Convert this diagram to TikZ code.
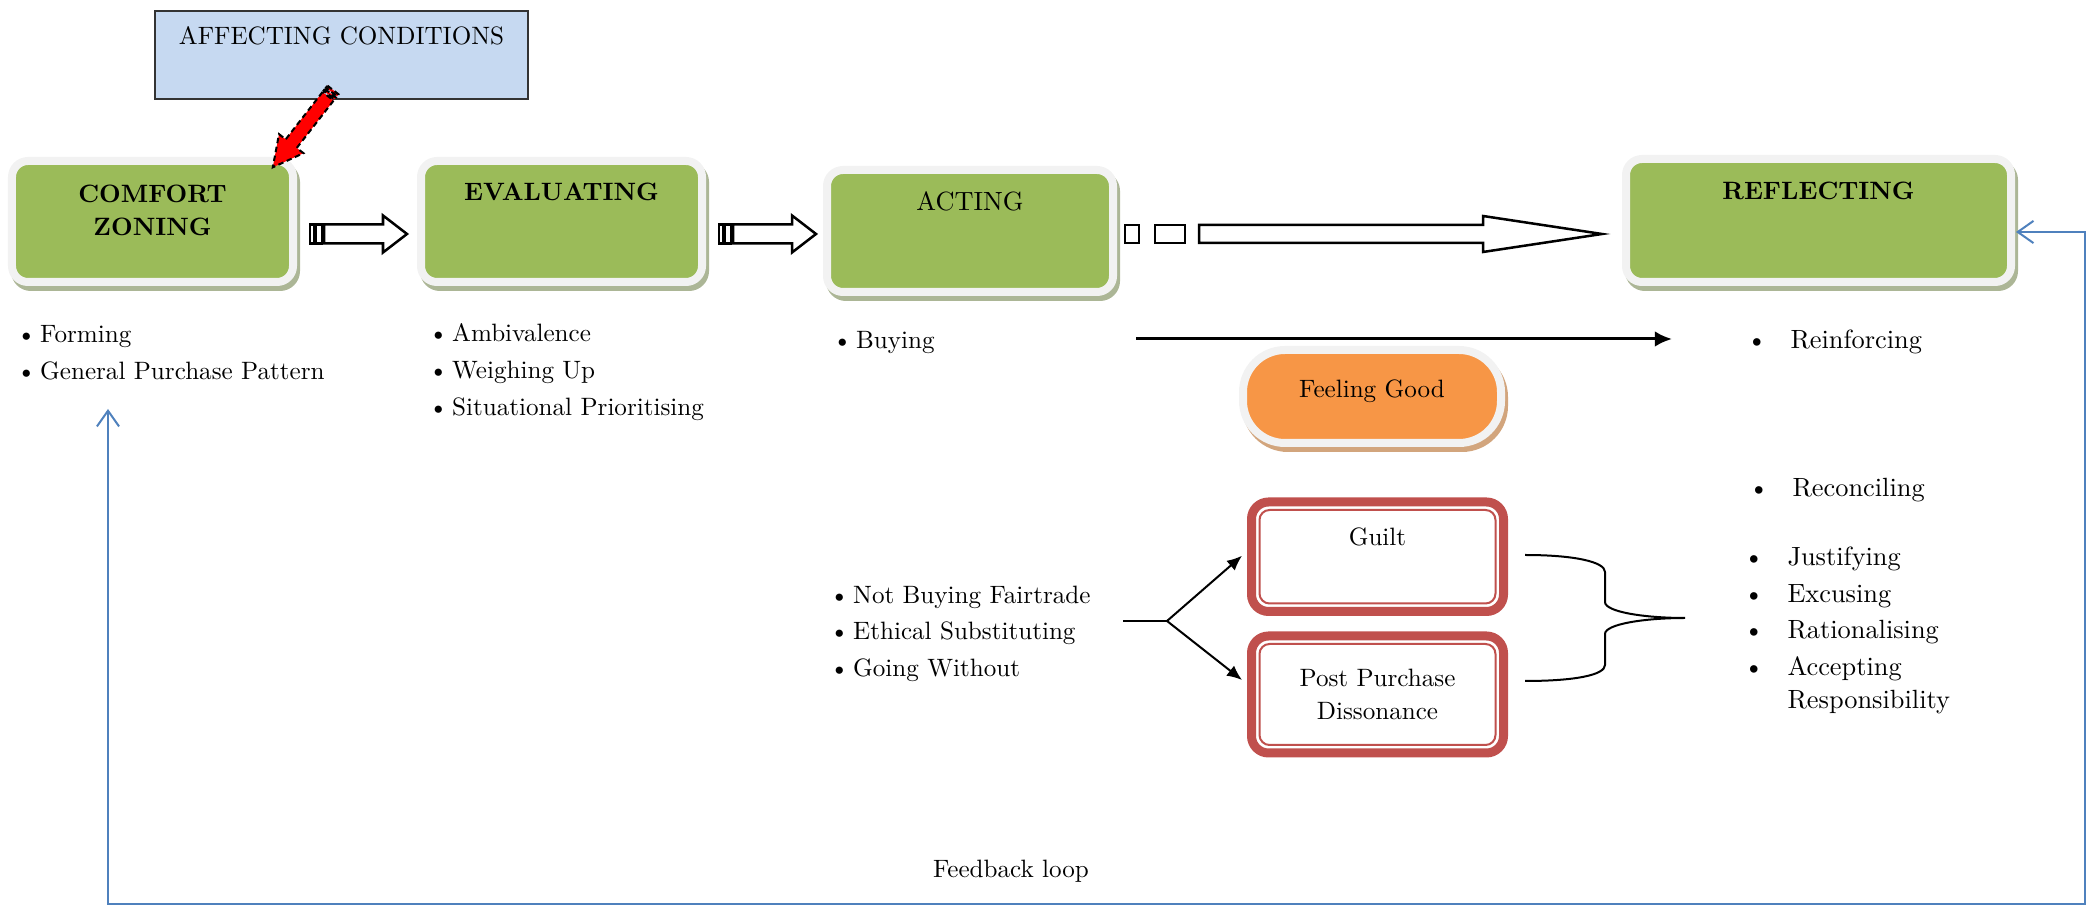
\documentclass[tikz,border=0pt]{standalone}
\usepackage{tikz}
\usetikzlibrary{arrows.meta,calc,positioning}
\definecolor{stagegreen}{HTML}{9BBB59}
\definecolor{stageshd}{RGB}{172,182,150}
\definecolor{rimgray}{HTML}{F2F2F2}
\definecolor{moodorange}{HTML}{F79646}
\definecolor{moodshd}{RGB}{210,165,125}
\definecolor{boxred}{HTML}{C0504D}
\definecolor{condblue}{HTML}{C6D9F1}
\definecolor{loopblue}{HTML}{4F81BD}
\newcommand{\itm}{\makebox[0.616cm][l]{\textbullet}}
\tikzset{
  lbl/.style={font=\fontsize{10}{14.84}\selectfont},
  lst/.style={lbl,anchor=base west,align=left,inner sep=0pt},
  rlst/.style={lst,font=\fontsize{10.5}{14.56}\selectfont},
  stage/.style={rectangle,rounded corners=0.224cm,fill=stagegreen,draw=rimgray,
    line width=0.112cm,outer sep=0pt,inner sep=0pt,align=center,
    font=\fontsize{10}{13.16}\selectfont\bfseries,
    preaction={fill=stageshd,draw=stageshd,transform canvas={xshift=0.042cm,yshift=-0.07cm}}},
  mood/.style={rectangle,rounded corners=0.588cm,fill=moodorange,draw=rimgray,
    line width=0.112cm,outer sep=0pt,inner sep=0pt,lbl,
    preaction={fill=moodshd,draw=moodshd,transform canvas={xshift=0.042cm,yshift=-0.07cm}}},
  cond/.style={rectangle,fill=condblue,draw=black!80,line width=0.028cm,lbl,inner sep=0pt},
  box/.style={rectangle,rounded corners=0.238cm,draw=boxred,fill=white,line width=0.126cm,
    outer sep=0pt,inner sep=0pt,align=center,font=\fontsize{10}{13.44}\selectfont},
  inner/.style={boxred,line width=0.028cm,rounded corners=0.14cm},
  blk/.style={draw=black,fill=white,line width=1pt},
  redarr/.style={draw=black,fill=red,line width=0.8pt,dash pattern=on 2.2pt off 1.4pt},
  fk/.style={line width=0.028cm,-{Latex[length=0.21cm,width=0.18cm]}},
  buyarr/.style={line width=0.042cm,-{Latex[length=0.24cm,width=0.22cm]}},
  fb/.style={loopblue,line width=0.028cm,
    {Straight Barb[length=0.22cm,width=0.31cm]}-{Straight Barb[length=0.22cm,width=0.31cm]}},
}
\begin{document}
\begin{tikzpicture}[x=1.4cm,y=1.4cm]
  \useasboundingbox (0,0) rectangle (20.98,-9.06);
  % the four stages
  \node[stage,minimum width=3.934cm,minimum height=1.694cm,text depth=0.31cm] (cz) at (1.525,-2.215) {COMFORT\\ZONING};
  \node[stage,minimum width=3.934cm,minimum height=1.694cm,text depth=0.84cm] (ev) at (5.615,-2.215) {EVALUATING};
  \node[stage,minimum width=4.004cm,minimum height=1.708cm,text depth=0.84cm,font=\fontsize{10.5}{13.16}\selectfont] (act) at (9.70,-2.31) {ACTING};
  \node[stage,minimum width=5.39cm,minimum height=1.722cm,text depth=0.84cm] (ref) at (18.185,-2.205) {REFLECTING};
  \node[cond,minimum width=5.222cm,minimum height=1.232cm,text depth=0.532cm] (ac) at (3.415,-0.55) {AFFECTING CONDITIONS};
  \begin{scope}[shift={(3.33,-0.90)},rotate=-127.9]
    \foreach \a/\b in {0/0.025,0.042/0.064} \draw[redarr] (\a,-0.07) rectangle (\b,0.07);
    \draw[redarr] (0.08,-0.07) -- (0.68,-0.07) -- (0.68,-0.155) -- (0.98,0) -- (0.68,0.155) -- (0.68,0.07) -- (0.08,0.07) -- cycle;
  \end{scope}
  % block arrows between stages
  \foreach \s in {cz,ev} {
    \begin{scope}[shift={(\s.east)}]
      \draw[blk] (0.17,-0.03) rectangle (0.21,-0.22);
      \draw[blk] (0.23,-0.03) rectangle (0.29,-0.22);
      \draw[blk] (0.31,-0.03) -- (0.90,-0.03) -- (0.90,0.06) -- (1.14,-0.125) -- (0.90,-0.31) -- (0.90,-0.22) -- (0.31,-0.22) -- cycle;
    \end{scope}
  }
  \begin{scope}[shift={(act.east)}]
    \draw[blk] (0.12,0.06) rectangle (0.26,-0.12);
    \draw[blk] (0.42,0.06) rectangle (0.72,-0.12);
    \draw[blk] (0.86,0.06) -- (3.70,0.06) -- (3.70,0.15) -- (4.89,-0.03) -- (3.70,-0.21) -- (3.70,-0.12) -- (0.86,-0.12) -- cycle;
  \end{scope}
  % lists under the stages
  \node[lst] (czl) at (0.16,-3.794) {\textbullet\,Forming\\\textbullet\,General Purchase Pattern};
  \node[lst] (evl) at (4.28,-4.158) {\textbullet\,Ambivalence\\\textbullet\,Weighing Up\\\textbullet\,Situational Prioritising};
  \node[lst] (buy) at (8.32,-3.49) {\textbullet\,Buying};
  \node[lst,font=\fontsize{10}{14.56}\selectfont] (notb) at (8.29,-6.762) {\textbullet\,Not Buying Fairtrade\\\textbullet\,Ethical Substituting\\\textbullet\,Going Without};
  \node[rlst] (reinf) at (17.46,-3.49) {\itm Reinforcing};
  \node[rlst] (recon) at (17.48,-4.97) {\itm Reconciling};
  \node[rlst] (just) at (17.43,-7.083) {\itm Justifying\\\itm Excusing\\\itm Rationalising\\\itm Accepting\\[-1.4pt]\hspace*{0.616cm}Responsibility};
  % buying path
  \coordinate (bs) at (11.36,-3.39);
  \coordinate (be) at (16.72,-3.39);
  \draw[buyarr] (bs) -- (be);
  \node[mood,minimum width=3.612cm,minimum height=1.302cm,text depth=0.21cm] (fg) at (13.72,-3.965) {Feeling Good};
  % not buying path
  \node[box,minimum width=3.528cm,minimum height=1.533cm,text depth=0.574cm] (guilt) at (13.775,-5.5675) {Guilt};
  \node[box,minimum width=3.528cm,minimum height=1.638cm,below=0.343cm of guilt] (ppd) {Post Purchase\\Dissonance};
  \foreach \b in {guilt,ppd}
    \draw[inner] ([shift={(0.08,-0.08)}]\b.north west) rectangle ([shift={(-0.08,0.08)}]\b.south east);
  \coordinate (fork) at (11.67,-6.21);
  \draw[line width=0.028cm] ($(fork)+(-0.44,0)$) -- (fork);
  \draw[fk] (fork) -- ([shift={(-0.095,0.01)}]guilt.west);
  \draw[fk] (fork) -- ([shift={(-0.095,0.145)}]ppd.west);
  \draw[line width=0.028cm] (15.25,-5.55) .. controls (15.75,-5.55) and (16.05,-5.62) .. (16.05,-5.72)
    -- (16.05,-6.02) .. controls (16.05,-6.12) and (16.45,-6.18) .. (16.85,-6.18)
    .. controls (16.45,-6.18) and (16.05,-6.24) .. (16.05,-6.34)
    -- (16.05,-6.65) .. controls (16.05,-6.75) and (15.75,-6.81) .. (15.25,-6.81);
  % feedback loop
  \coordinate (fbL) at (1.08,-4.09);
  \draw[fb] (fbL) |- (20.85,-9.04) |- ([shift={(0.05,-0.115)}]ref.east);
  \node[lbl] (fbt) at (10.11,-8.71) {Feedback loop};
\end{tikzpicture}
\end{document}
